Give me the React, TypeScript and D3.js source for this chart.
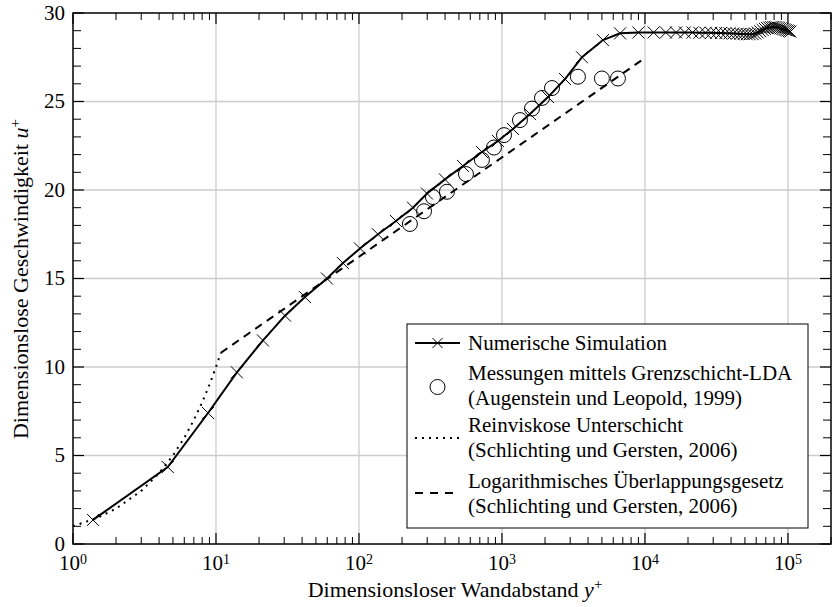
import React from "react";
import * as d3 from "d3";

// Numerische Simulation (y+, u+)
const simY = [1.38, 4.6, 8.8, 14, 21.3, 30.4, 41.9, 59.7, 77.3, 101.6, 135.8, 181.4, 238.6, 299, 399, 534, 724, 938, 1193, 1570, 2099, 2760, 3626, 5083,
  6700, 9000, 11500, 14000, 16500, 19000, 21500, 24000, 26500, 29000, 31500, 34000, 36500, 39000, 41500, 44000, 46500, 49000, 51500, 54000, 56500, 59000,
  61500, 64000, 66500, 69000, 71500, 74000, 76500, 79000, 81500, 84000, 86500, 89000, 91500, 94000, 96500, 99000, 101500, 104000];
const simU = [1.36, 4.35, 7.4, 9.7, 11.5, 12.9, 13.95, 15.0, 15.87, 16.7, 17.5, 18.25, 19.0, 19.8, 20.6, 21.36, 22.15, 22.77, 23.45, 24.29, 25.25, 26.27, 27.5, 28.47,
  28.85, 28.9, 28.9, 28.9, 28.9, 28.9, 28.9, 28.88, 28.88, 28.88, 28.87, 28.87, 28.86, 28.85, 28.84, 28.83, 28.82, 28.81, 28.8, 28.8, 28.81, 28.84,
  28.9, 28.97, 29.04, 29.1, 29.15, 29.18, 29.2, 29.21, 29.2, 29.18, 29.16, 29.13, 29.1, 29.07, 29.04, 29.01, 28.98, 28.95];

// Messungen (Augenstein und Leopold, 1999)
const measY = [227, 285, 329, 412, 560, 724, 879, 1033, 1336, 1622, 1905, 2238, 3398, 5000, 6473];
const measU = [18.08, 18.8, 19.6, 19.9, 20.9, 21.7, 22.4, 23.1, 23.95, 24.6, 25.2, 25.76, 26.4, 26.3, 26.3];

// Reinviskose Unterschicht
const viscY = [1, 1.5, 2, 3, 4, 5, 6, 7, 8, 9, 10, 10.8];
const viscU = [1, 1.5, 2, 3, 4, 5, 6, 7, 8, 9, 10, 10.8];

// Logarithmisches Ueberlappungsgesetz
const logY = [10.8, 10000];
const logU = [10.8, 27.46];

const xDecades = [0, 1, 2, 3, 4, 5];
const yTicks = [0, 5, 10, 15, 20, 25, 30];

const legendLabels = [
  ["Numerische Simulation"],
  ["Messungen mittels Grenzschicht-LDA", "(Augenstein und Leopold, 1999)"],
  ["Reinviskose Unterschicht", "(Schlichting und Gersten, 2006)"],
  ["Logarithmisches Überlappungsgesetz", "(Schlichting und Gersten, 2006)"],
];

const W = 832, H = 607;
const L = 73, R = 831, T = 13, B = 544;
const FONT = "'Liberation Serif', 'Times New Roman', serif";

export default function App() {
  const x = d3.scaleLog().domain([1, 2e5]).range([L, R]);
  const y = d3.scaleLinear().domain([0, 30]).range([B, T]);
  const line = d3.line<[number, number]>().x(d => x(d[0])).y(d => y(d[1]));

  const sim = simY.map((v, i) => [v, simU[i]] as [number, number]);
  const meas = measY.map((v, i) => [v, measU[i]] as [number, number]);
  const visc = viscY.map((v, i) => [v, viscU[i]] as [number, number]);
  const lg = logY.map((v, i) => [v, logU[i]] as [number, number]);

  const minorX: number[] = [];
  for (let d = 0; d < 6; d++) for (let k = 2; k <= 9; k++) { const v = k * Math.pow(10, d); if (v <= 2e5) minorX.push(v); }
  const minorY = d3.range(0, 31).filter(v => v % 5 !== 0);

  const cross = (cx: number, cy: number, s: number, key: any) => (
    <path key={key} d={`M${cx - s},${cy - s}L${cx + s},${cy + s}M${cx - s},${cy + s}L${cx + s},${cy - s}`} stroke="#000" strokeWidth={1} fill="none" />
  );

  const lx0 = 415, lx1 = 460, ltx = 468;
  return (
    <svg width={W} height={H} style={{ position: "absolute", left: 0, top: 0, background: "#fff" }} fontFamily={FONT}>
      {/* grid */}
      {xDecades.slice(1).map(d => (
        <line key={"gx" + d} x1={x(Math.pow(10, d))} x2={x(Math.pow(10, d))} y1={T} y2={B} stroke="#cccccc" strokeWidth={1.3} />
      ))}
      {yTicks.slice(1, -1).map(v => (
        <line key={"gy" + v} x1={L} x2={R} y1={y(v)} y2={y(v)} stroke="#cccccc" strokeWidth={1.3} />
      ))}
      {/* curves */}
      <path d={line(visc) || ""} fill="none" stroke="#000" strokeWidth={2} strokeDasharray="2,5" />
      <path d={line(lg) || ""} fill="none" stroke="#000" strokeWidth={2} strokeDasharray="8,6" />
      <path d={line(sim) || ""} fill="none" stroke="#000" strokeWidth={2} />
      {sim.map((p, i) => cross(x(p[0]), y(p[1]), 6, "s" + i))}
      {meas.map((p, i) => (
        <circle key={"m" + i} cx={x(p[0])} cy={y(p[1])} r={7.5} fill="none" stroke="#000" strokeWidth={1} />
      ))}
      {/* frame */}
      <rect x={L} y={T} width={R - L} height={B - T} fill="none" stroke="#000" strokeWidth={1.5} />
      {/* ticks */}
      {xDecades.map(d => {
        const px = x(Math.pow(10, d));
        return (
          <g key={"xt" + d}>
            <line x1={px} x2={px} y1={B} y2={B - 11} stroke="#000" strokeWidth={1.2} />
            <line x1={px} x2={px} y1={T} y2={T + 11} stroke="#000" strokeWidth={1.2} />
            <text x={px} y={570} textAnchor="middle" fontSize={21}>
              10<tspan fontSize={14} dy={-6}>{d}</tspan>
            </text>
          </g>
        );
      })}
      {minorX.map(v => (
        <g key={"mx" + v}>
          <line x1={x(v)} x2={x(v)} y1={B} y2={B - 7} stroke="#000" strokeWidth={1} />
          <line x1={x(v)} x2={x(v)} y1={T} y2={T + 7} stroke="#000" strokeWidth={1} />
        </g>
      ))}
      {yTicks.map(v => (
        <g key={"yt" + v}>
          <line x1={L} x2={L + 11} y1={y(v)} y2={y(v)} stroke="#000" strokeWidth={1.2} />
          <line x1={R} x2={R - 11} y1={y(v)} y2={y(v)} stroke="#000" strokeWidth={1.2} />
          <text x={65} y={y(v)} dy="0.33em" textAnchor="end" fontSize={21}>{v}</text>
        </g>
      ))}
      {minorY.map(v => (
        <g key={"my" + v}>
          <line x1={L} x2={L + 8} y1={y(v)} y2={y(v)} stroke="#000" strokeWidth={1} />
          <line x1={R} x2={R - 8} y1={y(v)} y2={y(v)} stroke="#000" strokeWidth={1} />
        </g>
      ))}
      {/* axis titles */}
      <text x={455} y={597} textAnchor="middle" fontSize={22}>
        Dimensionsloser Wandabstand <tspan fontStyle="italic">y</tspan><tspan fontSize={15} dy={-8}>+</tspan>
      </text>
      <text transform={`translate(28,279) rotate(-90)`} textAnchor="middle" fontSize={22}>
        Dimensionslose Geschwindigkeit <tspan fontStyle="italic">u</tspan><tspan fontSize={15} dy={-8}>+</tspan>
      </text>
      {/* legend */}
      <rect x={407} y={324} width={401} height={204} fill="#fff" stroke="#000" strokeWidth={1} />
      <line x1={lx0} x2={lx1} y1={343} y2={343} stroke="#000" strokeWidth={2} />
      {cross((lx0 + lx1) / 2, 343, 5, "lc")}
      <circle cx={(lx0 + lx1) / 2} cy={387} r={7.5} fill="none" stroke="#000" strokeWidth={1} />
      <line x1={lx0} x2={lx1} y1={438} y2={438} stroke="#000" strokeWidth={2} strokeDasharray="2,5" />
      <line x1={lx0} x2={lx1} y1={493} y2={493} stroke="#000" strokeWidth={2} strokeDasharray="8,7" />
      {[[350], [380, 405], [432, 457], [488, 513]].map((ys, i) =>
        ys.map((yy, j) => (
          <text key={"lt" + i + j} x={ltx} y={yy} fontSize={21}>{legendLabels[i][j]}</text>
        ))
      )}
    </svg>
  );
}
